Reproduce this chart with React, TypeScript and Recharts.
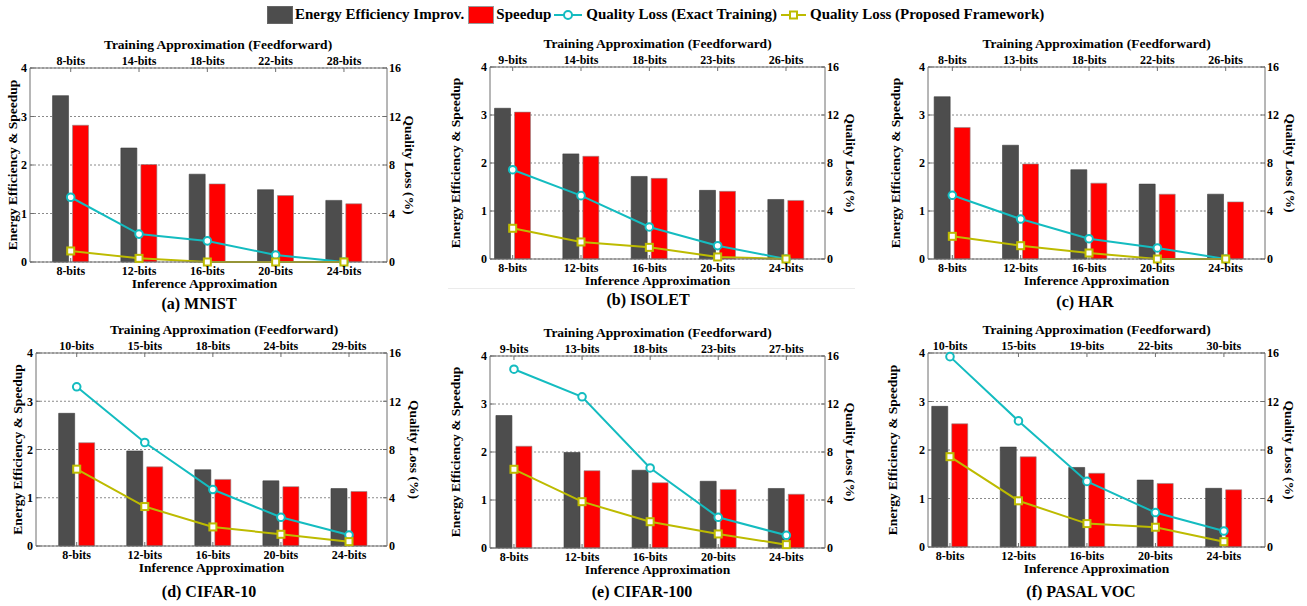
import { Bar, CartesianGrid, ComposedChart, Line, XAxis, YAxis } from "recharts"

const FONT = '"Liberation Serif", "Times New Roman", serif'
const GRAY = "#4d4d4d"
const RED = "#ff0000"
const CYAN = "#14bcc0"
const OLIVE = "#bdbb00"
const AXIS = "#6e6e6e"

// bottom axis (inference) is the same for every dataset
const inferenceBits = ["8-bits", "12-bits", "16-bits", "20-bits", "24-bits"]
const positions = [1, 2, 3, 4, 5]

const mnistTraining = ["8-bits", "14-bits", "18-bits", "22-bits", "28-bits"]
const mnistEnergy = [3.43, 2.35, 1.81, 1.49, 1.27]
const mnistSpeedup = [2.82, 2.01, 1.61, 1.37, 1.2]
const mnistExact = [5.34, 2.3, 1.74, 0.58, 0]
const mnistProposed = [0.91, 0.3, 0, 0, 0]

const isoletTraining = ["9-bits", "14-bits", "18-bits", "23-bits", "26-bits"]
const isoletEnergy = [3.14, 2.19, 1.72, 1.43, 1.24]
const isoletSpeedup = [3.06, 2.14, 1.68, 1.41, 1.22]
const isoletExact = [7.44, 5.28, 2.67, 1.11, 0]
const isoletProposed = [2.56, 1.42, 0.97, 0.17, 0]

const harTraining = ["8-bits", "13-bits", "18-bits", "22-bits", "26-bits"]
const harEnergy = [3.38, 2.37, 1.86, 1.56, 1.35]
const harSpeedup = [2.74, 1.98, 1.58, 1.35, 1.19]
const harExact = [5.31, 3.33, 1.69, 0.92, 0]
const harProposed = [1.89, 1.11, 0.5, 0, 0]

const cifar10Training = ["10-bits", "15-bits", "18-bits", "24-bits", "29-bits"]
const cifar10Energy = [2.75, 1.97, 1.58, 1.35, 1.19]
const cifar10Speedup = [2.14, 1.64, 1.38, 1.23, 1.13]
const cifar10Exact = [13.2, 8.58, 4.68, 2.38, 0.91]
const cifar10Proposed = [6.37, 3.27, 1.58, 0.97, 0.36]

const cifar100Training = ["9-bits", "13-bits", "18-bits", "23-bits", "27-bits"]
const cifar100Energy = [2.76, 1.99, 1.62, 1.39, 1.24]
const cifar100Speedup = [2.12, 1.61, 1.36, 1.22, 1.12]
const cifar100Exact = [14.9, 12.6, 6.67, 2.56, 1.06]
const cifar100Proposed = [6.56, 3.86, 2.19, 1.17, 0.28]

const vocTraining = ["10-bits", "15-bits", "19-bits", "22-bits", "30-bits"]
const vocEnergy = [2.9, 2.06, 1.64, 1.38, 1.21]
const vocSpeedup = [2.54, 1.86, 1.52, 1.31, 1.18]
const vocExact = [15.7, 10.4, 5.41, 2.84, 1.32]
const vocProposed = [7.45, 3.81, 1.93, 1.63, 0.44]

type Layout = {
  x: number
  y: number
  w: number
  h: number
  lo: number
  hi: number
  leftGap: number
  rightGap: number
  titleDx: number
  footDx: number
  capX: number
  capY: number
}

const panels = [
  { caption: "(a) MNIST", training: mnistTraining, energy: mnistEnergy, speedup: mnistSpeedup, exact: mnistExact, proposed: mnistProposed,
    layout: { x: 30, y: 68, w: 357, h: 194, lo: 0.404, hi: 5.63, leftGap: 18, rightGap: 22.3, titleDx: 9.5, footDx: -4, capX: 199, capY: 304 } },
  { caption: "(b) ISOLET", training: isoletTraining, energy: isoletEnergy, speedup: isoletSpeedup, exact: isoletExact, proposed: isoletProposed,
    layout: { x: 490, y: 67, w: 335, h: 192, lo: 0.668, hi: 5.571, leftGap: 34.3, rightGap: 25.8, titleDx: 0, footDx: 0, capX: 648, capY: 300 } },
  { caption: "(c) HAR", training: harTraining, energy: harEnergy, speedup: harSpeedup, exact: harExact, proposed: harProposed,
    layout: { x: 928, y: 67, w: 337, h: 192, lo: 0.644, hi: 5.575, leftGap: 32.8, rightGap: 25.8, titleDx: 0, footDx: 0, capX: 1085, capY: 302 } },
  { caption: "(d) CIFAR-10", training: cifar10Training, energy: cifar10Energy, speedup: cifar10Speedup, exact: cifar10Exact, proposed: cifar10Proposed,
    layout: { x: 36, y: 353, w: 351, h: 193, lo: 0.402, hi: 5.558, leftGap: 18.8, rightGap: 27.3, titleDx: 12.5, footDx: 0, capX: 209, capY: 592 } },
  { caption: "(e) CIFAR-100", training: cifar100Training, energy: cifar100Energy, speedup: cifar100Speedup, exact: cifar100Exact, proposed: cifar100Proposed,
    layout: { x: 490, y: 356, w: 335, h: 192, lo: 0.648, hi: 5.568, leftGap: 34.3, rightGap: 25.8, titleDx: 0, footDx: 0, capX: 642, capY: 592 } },
  { caption: "(f) PASAL VOC", training: vocTraining, energy: vocEnergy, speedup: vocSpeedup, exact: vocExact, proposed: vocProposed,
    layout: { x: 928, y: 353, w: 337, h: 194, lo: 0.679, hi: 5.6, leftGap: 35.8, rightGap: 24.3, titleDx: 0, footDx: 0, capX: 1081, capY: 592 } },
]

const tickStyle = { fill: "#000", fontSize: 12, fontWeight: 700, fontFamily: FONT }
const titleStyle = { fill: "#000", fontSize: 13.5, fontWeight: 700, fontFamily: FONT, textAnchor: "middle" as const }
// MATLAB style: tick marks point into the plot, so the tick size is negative
const inwardTick = { stroke: AXIS, strokeWidth: 1 }

function CircleDot(props: any) {
  const { cx, cy, index } = props
  if (cx == null || cy == null) return null
  return <circle key={`c-${index}`} cx={cx} cy={cy} r={3.8} fill="#fff" stroke={CYAN} strokeWidth={2} />
}

function SquareDot(props: any) {
  const { cx, cy, index } = props
  if (cx == null || cy == null) return null
  return <rect key={`s-${index}`} x={cx - 3.5} y={cy - 3.5} width={7} height={7} fill="#fff" stroke={OLIVE} strokeWidth={2} />
}

function Panel({ caption, training, energy, speedup, exact, proposed, layout }: {
  caption: string
  training: string[]
  energy: number[]
  speedup: number[]
  exact: number[]
  proposed: number[]
  layout: Layout
}) {
  const rows = inferenceBits.map((_, i) => ({
    pos: positions[i],
    energy: energy[i],
    speedup: speedup[i],
    exact: exact[i],
    proposed: proposed[i],
  }))
  const L = layout

  return (
    <>
      <div style={{ position: "absolute", left: L.x - 60, top: L.y - 50 }}>
        <ComposedChart
          width={L.w + 120}
          height={L.h + 100}
          data={rows}
          margin={{ top: 36, right: 30, bottom: 36, left: 30 }}
          barGap={4}
        >
          <CartesianGrid xAxisId="bottom" yAxisId="left" vertical={false} stroke="#8a8a8a" strokeDasharray="2 2" />
          <XAxis
            xAxisId="bottom"
            type="number"
            dataKey="pos"
            domain={[L.lo, L.hi]}
            ticks={positions}
            interval={0}
            allowDataOverflow
            height={14}
            tickSize={-4}
            tickMargin={8}
            tickLine={inwardTick}
            axisLine={{ stroke: AXIS }}
            tick={tickStyle}
            tickFormatter={(v: number) => inferenceBits[v - 1]}
            label={{ value: "Inference Approximation", position: "bottom", offset: 2, dx: L.footDx, style: titleStyle }}
          />
          <XAxis
            xAxisId="top"
            orientation="top"
            type="number"
            dataKey="pos"
            domain={[L.lo, L.hi]}
            ticks={positions}
            interval={0}
            allowDataOverflow
            height={14}
            tickSize={-4}
            tickMargin={7}
            tickLine={inwardTick}
            axisLine={{ stroke: AXIS }}
            tick={tickStyle}
            tickFormatter={(v: number) => training[v - 1]}
            label={{ value: "Training Approximation (Feedforward)", position: "top", offset: 5, dx: L.titleDx, style: titleStyle }}
          />
          <YAxis
            yAxisId="left"
            domain={[0, 4]}
            ticks={[0, 1, 2, 3, 4]}
            width={30}
            tickSize={-4}
            tickMargin={7}
            tickLine={inwardTick}
            axisLine={{ stroke: AXIS }}
            tick={tickStyle}
            label={{ value: "Energy Efficiency & Speedup", angle: -90, position: "insideLeft", offset: 30 - L.leftGap, style: titleStyle }}
          />
          <YAxis
            yAxisId="right"
            orientation="right"
            domain={[0, 16]}
            ticks={[0, 4, 8, 12, 16]}
            width={30}
            tickSize={-4}
            tickMargin={6}
            tickLine={inwardTick}
            axisLine={{ stroke: AXIS }}
            tick={tickStyle}
            label={{ value: "Quality Loss (%)", angle: 90, position: "insideRight", offset: 30 - L.rightGap, style: titleStyle }}
          />
          <Bar xAxisId="bottom" yAxisId="left" dataKey="energy" fill={GRAY} stroke="#3c3c3c" strokeWidth={0.6} barSize={16} isAnimationActive={false} />
          <Bar xAxisId="bottom" yAxisId="left" dataKey="speedup" fill={RED} stroke="#8a8a8a" strokeWidth={0.6} barSize={16} isAnimationActive={false} />
          <Line xAxisId="bottom" yAxisId="right" type="linear" dataKey="exact" stroke={CYAN} strokeWidth={2} dot={CircleDot} activeDot={false} isAnimationActive={false} />
          <Line xAxisId="bottom" yAxisId="right" type="linear" dataKey="proposed" stroke={OLIVE} strokeWidth={2} dot={SquareDot} activeDot={false} isAnimationActive={false} />
        </ComposedChart>
      </div>
      <div
        style={{
          position: "absolute",
          left: L.capX - 100,
          top: L.capY - 10,
          width: 200,
          textAlign: "center",
          fontFamily: FONT,
          fontWeight: 700,
          fontSize: 16,
          lineHeight: "20px",
          color: "#000",
        }}
      >
        {caption}
      </div>
    </>
  )
}

function Legend() {
  const text = { fontFamily: FONT, fontWeight: 700, fontSize: 15, lineHeight: "19px", color: "#000", whiteSpace: "nowrap" as const }
  return (
    <div style={{ position: "absolute", left: 267, top: 5, height: 19, display: "flex", alignItems: "center" }}>
      <div style={{ width: 26, height: 18, background: GRAY, border: "1px solid #666", boxSizing: "border-box" }} />
      <span style={{ ...text, marginLeft: 2 }}>Energy Efficiency Improv.</span>
      <div style={{ width: 26, height: 18, background: RED, border: "1px solid #999", boxSizing: "border-box", marginLeft: 4 }} />
      <span style={{ ...text, marginLeft: 2 }}>Speedup</span>
      <svg width={28} height={18} style={{ marginLeft: 3 }}>
        <line x1={0} y1={9} x2={28} y2={9} stroke={CYAN} strokeWidth={2} />
        <circle cx={14} cy={9} r={4} fill="#fff" stroke={CYAN} strokeWidth={2} />
      </svg>
      <span style={{ ...text, marginLeft: 4 }}>Quality Loss (Exact Training)</span>
      <svg width={25} height={18} style={{ marginLeft: 4 }}>
        <line x1={0} y1={9} x2={25} y2={9} stroke={OLIVE} strokeWidth={2} />
        <rect x={9} y={5.5} width={7} height={7} fill="#fff" stroke={OLIVE} strokeWidth={2} />
      </svg>
      <span style={{ ...text, marginLeft: 4 }}>Quality Loss (Proposed Framework)</span>
    </div>
  )
}

export default function App() {
  return (
    <div style={{ position: "absolute", left: 0, top: 0, width: 1307, height: 606, background: "#fff", overflow: "hidden" }}>
      <Legend />
      {panels.map((p) => (
        <Panel key={p.caption} {...p} />
      ))}
      {/* faint rule under the ISOLET panel */}
      <div style={{ position: "absolute", left: 448, top: 288, width: 407, height: 1, background: "#ebebeb" }} />
    </div>
  )
}
